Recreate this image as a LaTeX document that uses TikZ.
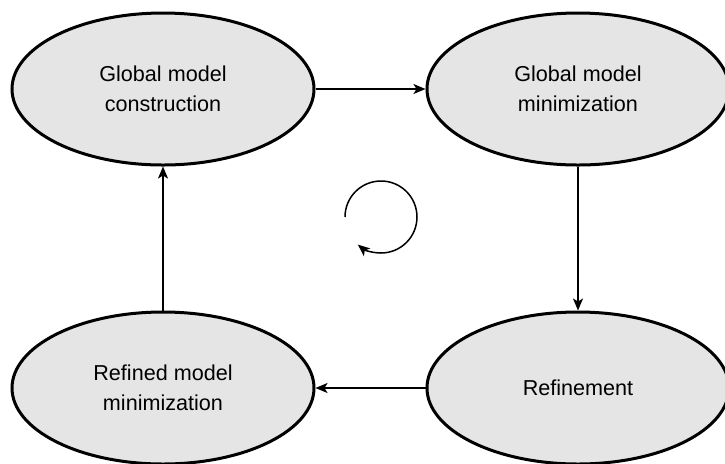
\documentclass[tikz,border=0pt]{standalone}
\usepackage{fontspec}
\setmainfont{Liberation Sans}
\usetikzlibrary{arrows.meta,shapes,positioning}

\begin{document}
\begin{tikzpicture}[>={Stealth[length=6pt,width=5pt,inset=1.5pt]},thick]
        \tikzstyle{stage}=[ellipse,line width=1.5pt,draw=black,fill=black!10,minimum width=151pt,minimum height=76pt,inner sep=0pt,align=center,font=\fontsize{10.8}{15}\selectfont]
        \tikzstyle{flow}=[->,line width=0.75pt]

        \useasboundingbox (0pt,0pt) rectangle (362.5pt,-231.5pt);

        \node [stage] (gmc) at (81.5pt,-44.5pt) {Global model\\construction}; %start
        \node [stage] (gmm) [right=55pt of gmc] {Global model\\minimization};
        \node [stage] (ref) [below=72pt of gmm] {Refinement};
        \node [stage] (rmm) [left=55pt of ref] {Refined model\\minimization};

        \draw [flow] (gmc) -- (gmm);
        \draw [flow] (gmm) -- (ref);
        \draw [flow] (ref) -- (rmm);
        \draw [flow] (rmm) -- (gmc);

        \coordinate (loop) at (172.5pt,-108.5pt); %cycle sign
        \draw [flow] (loop) arc [start angle=180,end angle=-130,radius=18pt];
\end{tikzpicture}
\end{document}
